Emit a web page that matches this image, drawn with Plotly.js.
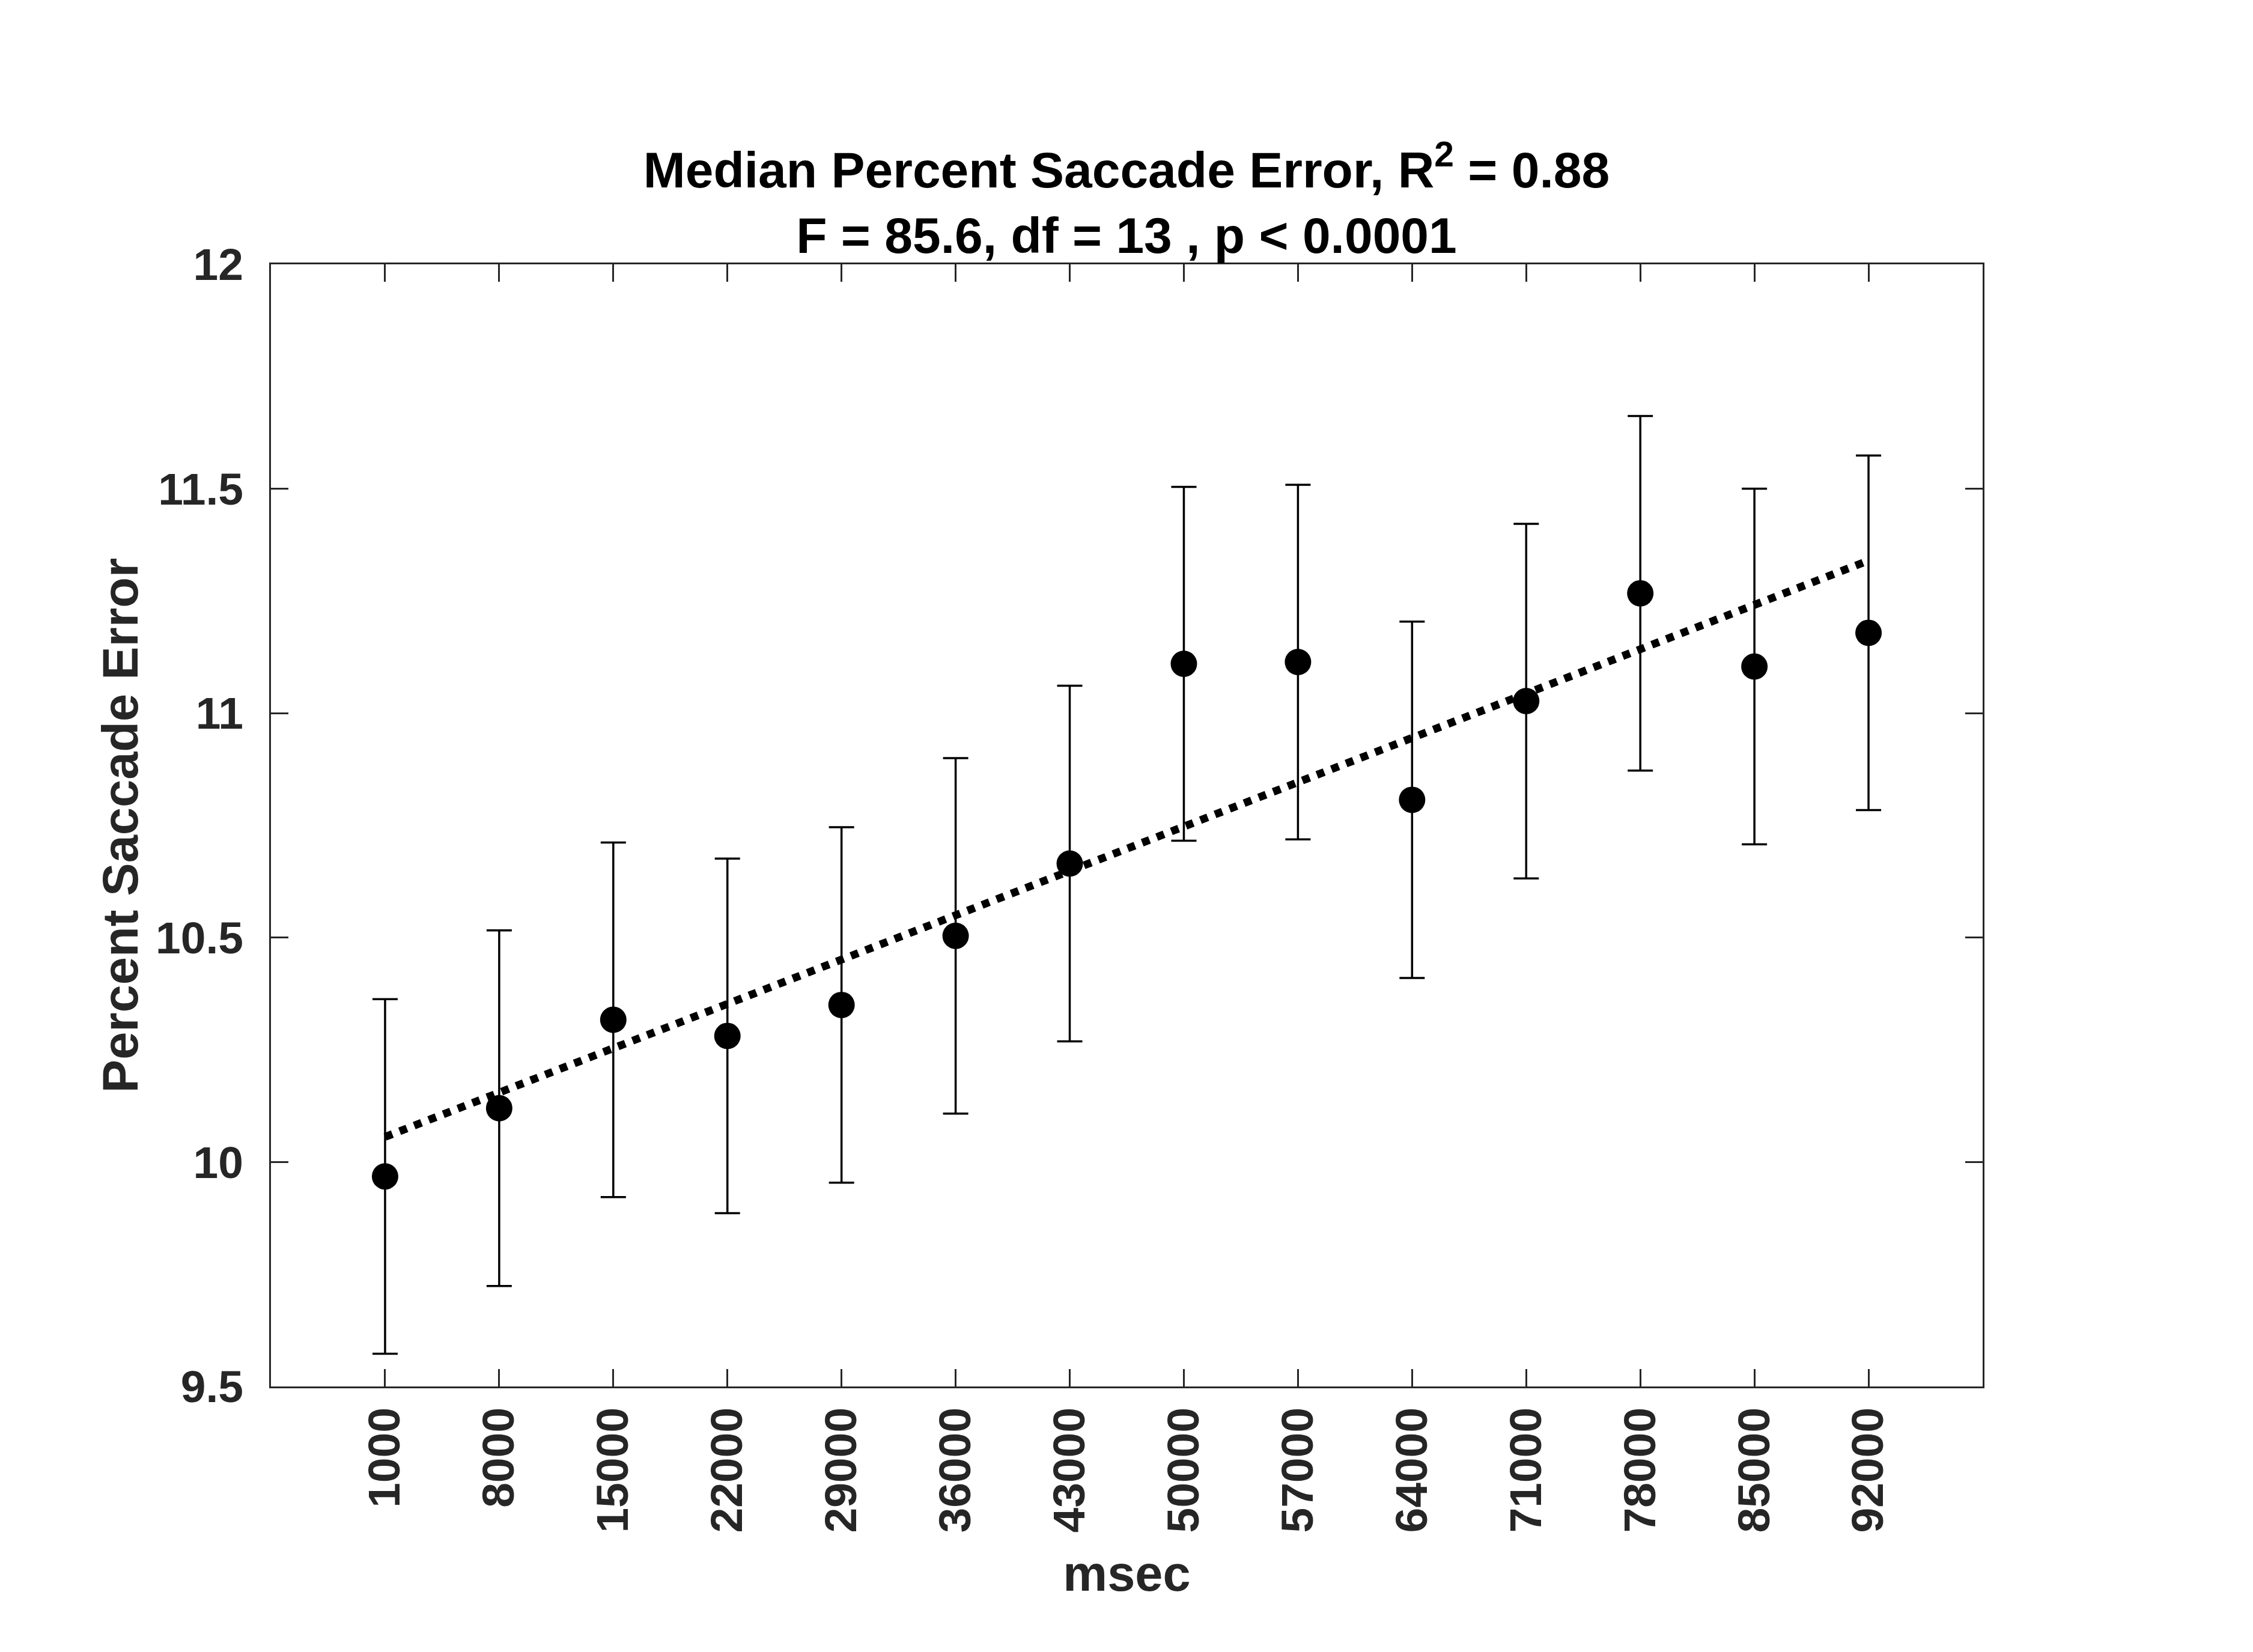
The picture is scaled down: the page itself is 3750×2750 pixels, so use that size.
<!DOCTYPE html>
<html>
<head>
<meta charset="utf-8">
<script src="https://cdn.plot.ly/plotly-3.0.1.min.js"></script>
<style>
  html, body { margin: 0; padding: 0; background: #fff; }
  #chart { width: 3750px; height: 2750px; }
</style>
</head>
<body>
<div id="chart"></div>
<script>
// msec bins on the x axis
var msec = [1000, 8000, 15000, 22000, 29000, 36000, 43000, 50000, 57000, 64000, 71000, 78000, 85000, 92000];
var msecLabels = ['1000', '8000', '15000', '22000', '29000', '36000', '43000', '50000', '57000', '64000', '71000', '78000', '85000', '92000'];

// median percent saccade error and its error bar half-length
var medianErr = [9.968, 10.120, 10.317, 10.281, 10.350, 10.504, 10.665, 11.110, 11.114, 10.807, 11.027, 11.267, 11.104, 11.179];
var errBar = [0.395, 0.396, 0.395, 0.395, 0.396, 0.396, 0.396, 0.394, 0.395, 0.397, 0.395, 0.395, 0.396, 0.395];

// fitted regression line end points
var fitX = [1000, 92000];
var fitY = [10.056, 11.340];

var yTicks = [9.5, 10, 10.5, 11, 11.5, 12];
var yTickLabels = ['9.5', '10', '10.5', '11', '11.5', '12'];

var axisGray = '#262626';
var fontFam = '"Liberation Sans", Arial, Helvetica, sans-serif';

var points = {
  type: 'scatter',
  mode: 'markers',
  x: msec,
  y: medianErr,
  marker: { color: 'black', size: 44 },
  error_y: {
    type: 'data',
    array: errBar,
    visible: true,
    color: 'black',
    thickness: 3.5,
    width: 21
  },
  showlegend: false,
  hoverinfo: 'x+y'
};

var fit = {
  type: 'scatter',
  mode: 'lines',
  x: fitX,
  y: fitY,
  line: { color: 'black', width: 13, dash: '13px,13px' },
  showlegend: false
};

var layout = {
  width: 3750,
  height: 2750,
  paper_bgcolor: 'white',
  plot_bgcolor: 'white',
  margin: { l: 451, r: 450, t: 440, b: 442 },
  font: { family: fontFam, color: axisGray },
  title: {
    text: 'Median Percent Saccade Error, R<sup>2</sup> = 0.88<br>F = 85.6, df = 13 , p < 0.0001',
    font: { family: fontFam, size: 84, color: 'black', weight: 'bold' },
    x: 0.5,
    xanchor: 'center',
    yref: 'paper',
    y: 1,
    yanchor: 'bottom',
    pad: { b: 128 }
  },
  xaxis: {
    range: [-6000, 99000],
    tickvals: msec,
    ticktext: msecLabels,
    tickangle: -90,
    tickfont: { family: fontFam, size: 75, color: axisGray, weight: 'bold' },
    ticks: 'inside',
    ticklen: 29,
    tickwidth: 3,
    tickcolor: axisGray,
    showline: true,
    linecolor: axisGray,
    linewidth: 3,
    mirror: 'ticks',
    showgrid: false,
    zeroline: false,
    ticklabelstandoff: 2,
    title: {
      text: 'msec',
      font: { family: fontFam, size: 83, color: axisGray, weight: 'bold' },
      standoff: 40
    }
  },
  yaxis: {
    range: [9.5, 12],
    tickvals: yTicks,
    ticktext: yTickLabels,
    tickfont: { family: fontFam, size: 75, color: axisGray, weight: 'bold' },
    ticks: 'inside',
    ticklen: 29,
    tickwidth: 3,
    tickcolor: axisGray,
    showline: true,
    linecolor: axisGray,
    linewidth: 3,
    mirror: 'ticks',
    showgrid: false,
    zeroline: false,
    ticklabelstandoff: 28,
    title: {
      text: 'Percent Saccade Error',
      font: { family: fontFam, size: 83, color: axisGray, weight: 'bold' },
      standoff: 2
    }
  }
};

Plotly.newPlot('chart', [points, fit], layout, { displayModeBar: false, staticPlot: true });
</script>
</body>
</html>
